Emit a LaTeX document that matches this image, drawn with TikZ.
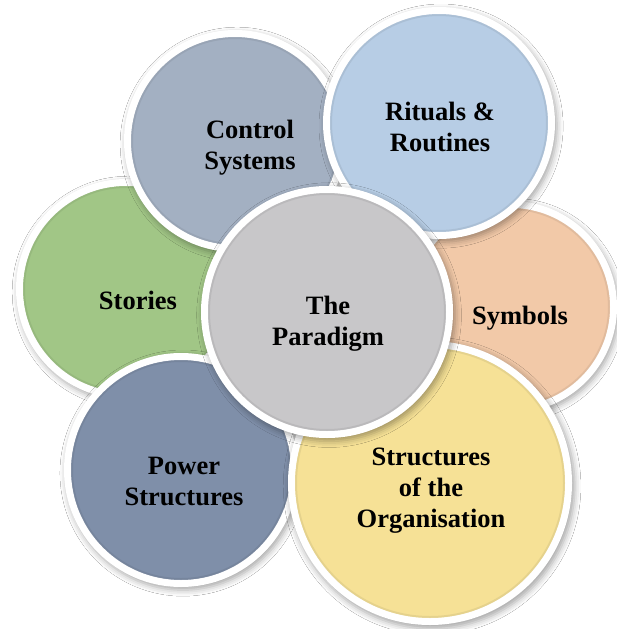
\documentclass[tikz,border=0pt]{standalone}
\usepackage{fontspec}
\setmainfont{Liberation Serif}
\usetikzlibrary{shadows.blur}

% fill colours of the seven culture-web elements
\definecolor{stories}{RGB}{161,198,134}
\definecolor{control}{RGB}{163,176,194}
\definecolor{rituals}{RGB}{183,205,229}
\definecolor{symbols}{RGB}{242,201,168}
\definecolor{power}{RGB}{127,143,169}
\definecolor{orgstruct}{RGB}{246,225,150}
\definecolor{paradigm}{RGB}{200,199,201}

\tikzset{
  bubble/.style={circle, draw=white, line width=7pt, inner sep=0pt, outer sep=0pt,
    blur shadow={shadow xshift=2pt, shadow yshift=-3pt, shadow blur radius=6pt,
                 shadow opacity=35, shadow scale=1.03}},
  bevel/.style={draw=#1!70!black, line width=2pt, opacity=0.22},
  caption/.style={font=\fontsize{26.5}{31}\selectfont\bfseries, align=center, text=black}
}

\begin{document}
\begin{tikzpicture}[x=1pt,y=-1pt]
\useasboundingbox (0,0) rectangle (617,629);
\clip (0,0) rectangle (617,629);
\fill[white] (0,0) rectangle (617,629);

% outer ring of elements, drawn from back to front
\foreach \name/\cx/\cy/\r in {stories/126/289/110, control/235/141/111,
    symbols/511/307/106, rituals/439/123/116, power/181/470/117,
    orgstruct/430/483/142} {
  \node[bubble, fill=\name, minimum size={2*(\r-3.5)}] (\name) at (\cx,\cy) {};
  \draw[bevel=\name] (\name.center) circle ({\r-8});
}

% central element
\node[bubble, fill=paradigm, minimum size={2*(126-3.5)}] (paradigm) at (327,312) {};
\draw[bevel=paradigm] (paradigm.center) circle ({126-8});

% labels
\node[caption] (stories-label)   at (138,300) {Stories};
\node[caption] (control-label)   at (250,148) {Control\\Systems};
\node[caption] (rituals-label)   at (440,127) {Rituals \&\\Routines};
\node[caption] (symbols-label)   at (520,318) {Symbols};
\node[caption] (power-label)     at (184,481) {Power\\Structures};
\node[caption] (orgstruct-label) at (431,491) {Structures\\of the\\Organisation};
\node[caption] (paradigm-label)  at (328,324) {The\\Paradigm};
\end{tikzpicture}
\end{document}
